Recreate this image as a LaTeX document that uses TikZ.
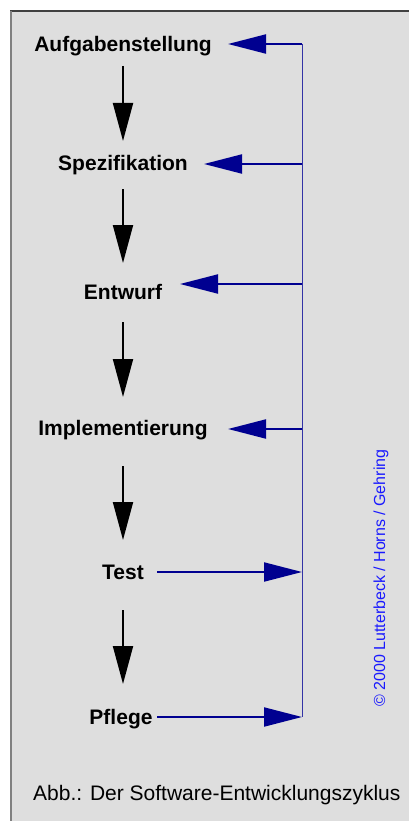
\documentclass[tikz,border=0pt]{standalone}
\usepackage{fontspec}
\setmainfont{Liberation Sans}
\usetikzlibrary{arrows.meta}
\definecolor{bggrey}{HTML}{DEDEDE}
\definecolor{arrowblue}{HTML}{000090}
\definecolor{copyblue}{HTML}{1A1AFF}
\tikzset{
  x=1pt, y=-1pt,
  stage/.style={font=\fontsize{21}{25}\selectfont\bfseries, inner sep=0pt, outer sep=0pt,
    text height=15pt, text depth=4.5pt, anchor=base},
  flowarrow/.style={line width=2pt, -{Triangle[length=38pt,width=20pt]}},
  backarrow/.style={line width=2pt, arrowblue, -{Triangle[length=38pt,width=19pt]}},
  busline/.style={line width=1pt, arrowblue!80!white},
}
\begin{document}
\begin{tikzpicture}
\useasboundingbox (0,0) rectangle (409,821);
\fill[white] (0,0) rectangle (409,821);
\fill[bggrey] (11,11) rectangle (409,821);
\draw[line width=2pt, black!75] (10,11) -- (409,11);
\draw[line width=2pt, black!50] (11,11) -- (11,821);

% stages
\node[stage] (aufg) at (123,52) {Aufgabenstellung};
\node[stage] (spez) at (123,171) {Spezifikation};
\node[stage] (entw) at (123,299) {Entwurf};
\node[stage] (impl) at (123,435) {Implementierung};
\node[stage] (test) at (123,579) {Test};
\node[stage] (pfl)  at (121,724) {Pflege};

% flow arrows
\draw[flowarrow, shorten <=9.5pt, shorten >=15pt] (aufg.south) -- (spez.north);
\draw[flowarrow, shorten <=13.5pt, shorten >=21pt] (spez.south) -- (entw.north);
\draw[flowarrow, shorten <=18.5pt, shorten >=23pt] (entw.south) -- (impl.north);
\draw[flowarrow, shorten <=26.5pt, shorten >=24pt] (impl.south) -- (test.north);
\draw[flowarrow, shorten <=26.5pt, shorten >=25pt] (test.south) -- (test.south |- pfl.north);

% feedback bus
\coordinate (r1) at (302,44);
\coordinate (r2) at (302,164);
\coordinate (r3) at (302,284);
\coordinate (r4) at (302,429);
\coordinate (r5) at (302,572);
\coordinate (r6) at (302,717);
\coordinate (t1) at (228,44);
\coordinate (t2) at (204,164);
\coordinate (t3) at (180,284);
\coordinate (t4) at (228,429);
\coordinate (s5) at (157,572);
\coordinate (s6) at (157,717);
\draw[busline] (r1) -- (r6);
\draw[backarrow] (r1) -- (t1);
\draw[backarrow] (r2) -- (t2);
\draw[backarrow] (r3) -- (t3);
\draw[backarrow] (r4) -- (t4);
\draw[backarrow] (s5) -- (r5);
\draw[backarrow] (s6) -- (r6);

% copyright
\node[rotate=90, anchor=base west, inner sep=0pt, text=copyblue,
  font=\fontsize{16}{19}\selectfont] (copy) at (385,707) {© 2000 Lutterbeck / Horns / Gehring};

% caption
\node[anchor=base west, inner sep=0pt, font=\fontsize{21}{25}\selectfont] (cap) at (33,800)
  {Abb.: Der Software-Entwicklungszyklus};
\end{tikzpicture}
\end{document}
